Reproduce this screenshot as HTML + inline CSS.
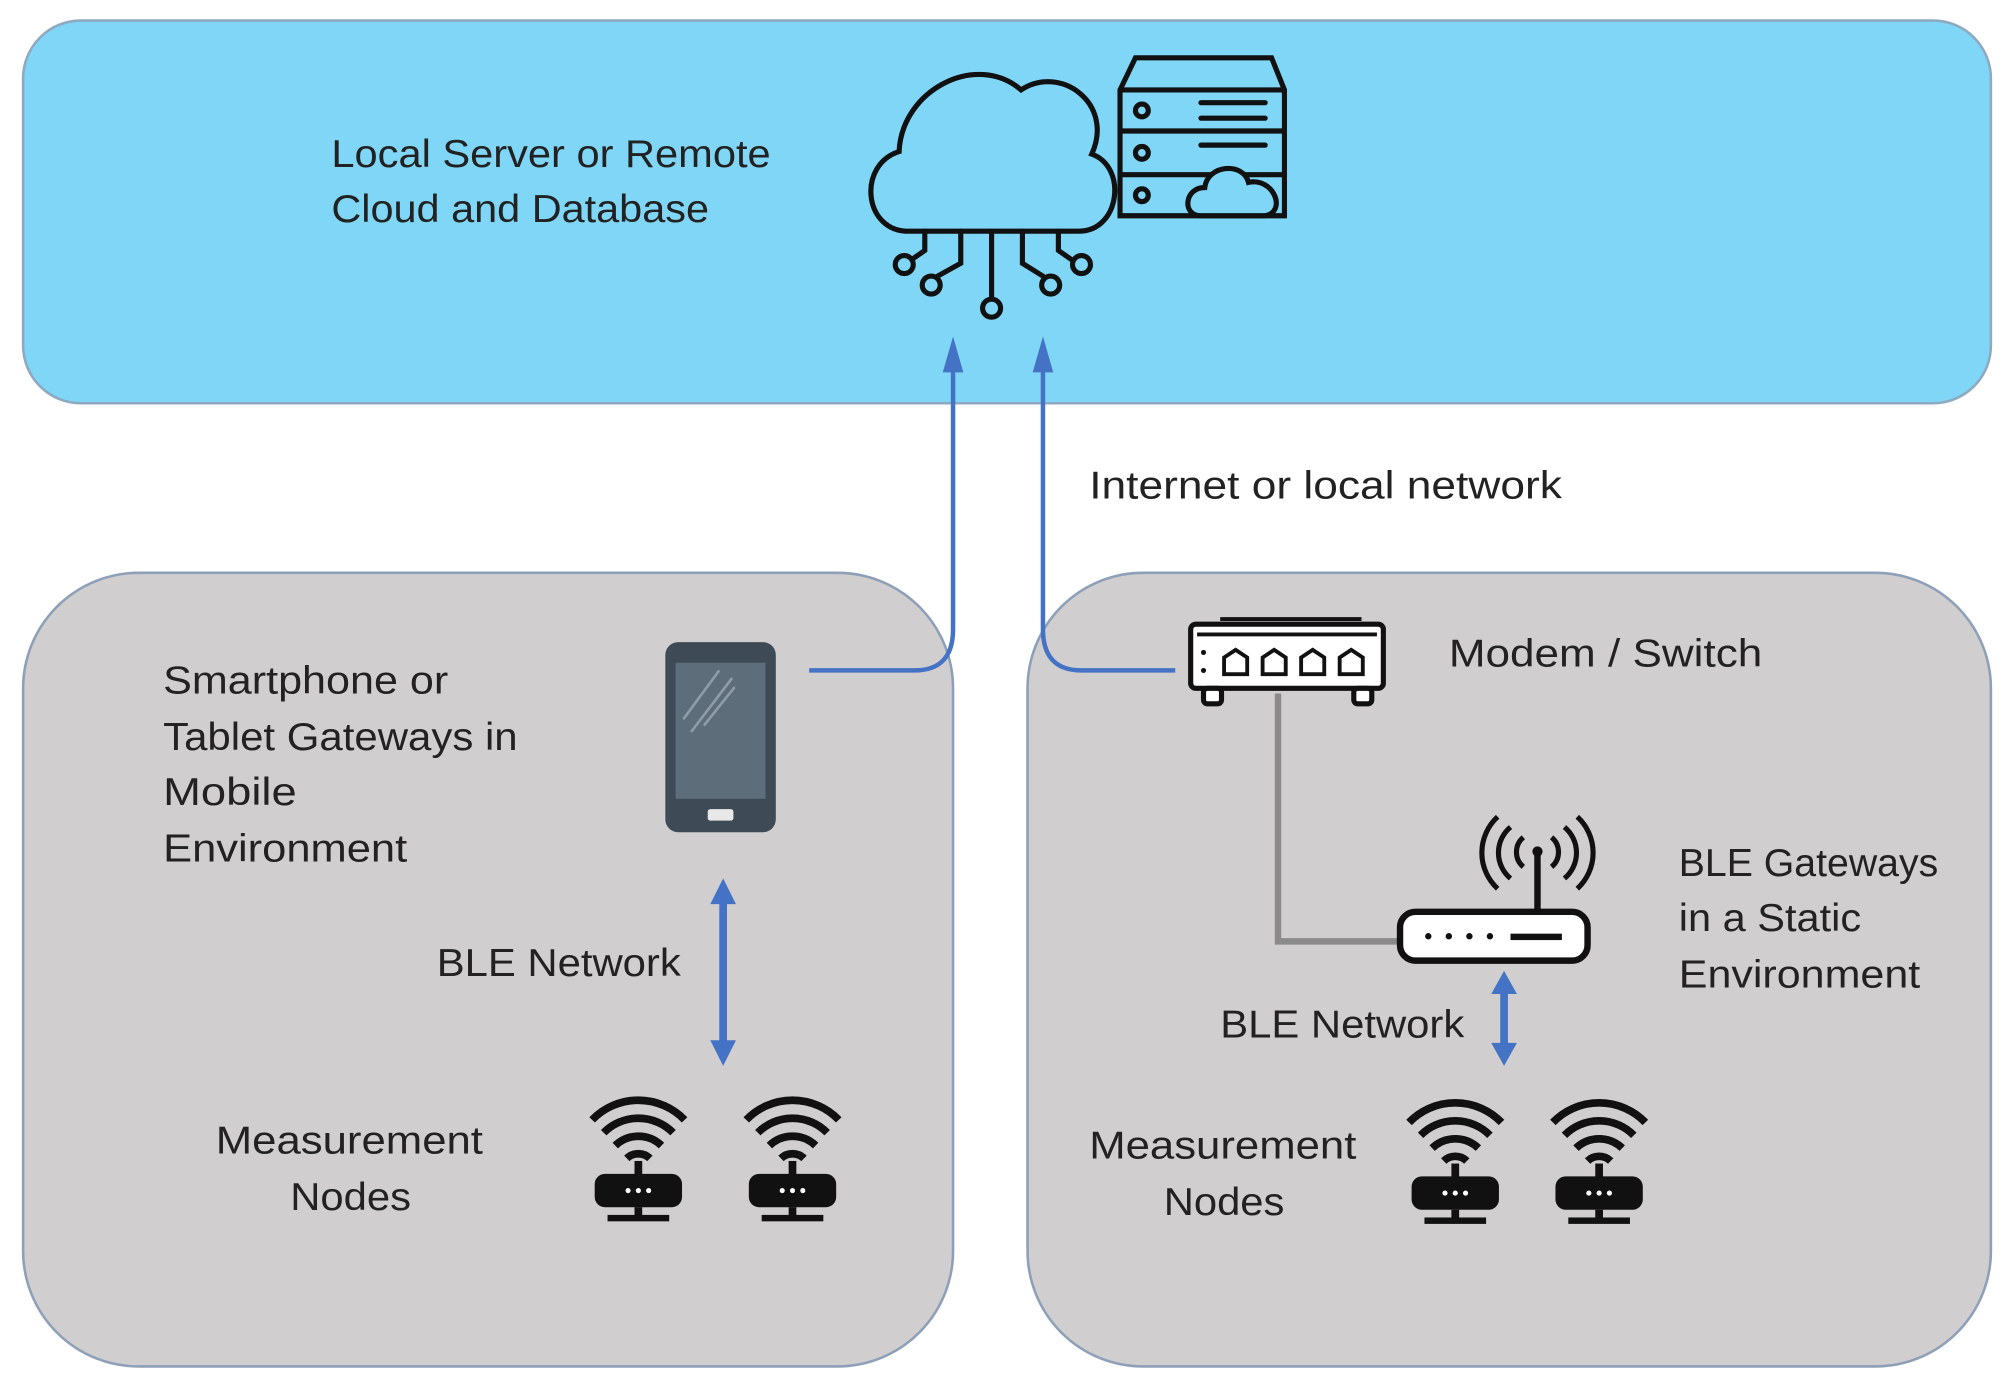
<!DOCTYPE html>
<html><head><meta charset="utf-8"><style>
html,body{margin:0;padding:0;background:#fff}
svg{display:block}
text{font-family:"Liberation Sans",sans-serif;fill:#222;font-size:30px}
</style></head><body>
<svg width="2014" height="1387" viewBox="0 0 1568 1080" preserveAspectRatio="none" xmlns="http://www.w3.org/2000/svg">
<defs>
<g id="node">
 <path d="M-36,-18 A50,50 0 0 1 36,-18" fill="none" stroke="#111" stroke-width="6"/>
 <path d="M-27,-8 A38,38 0 0 1 27,-8" fill="none" stroke="#111" stroke-width="6"/>
 <path d="M-18,2 A26,26 0 0 1 18,2" fill="none" stroke="#111" stroke-width="6"/>
 <path d="M-9,12 A13,13 0 0 1 9,12" fill="none" stroke="#111" stroke-width="6"/>
 <rect x="-3" y="14" width="6" height="12" fill="#111"/>
 <rect x="-34" y="24" width="68" height="26" rx="8" fill="#111"/>
 <circle cx="-8" cy="37" r="2" fill="#fff"/><circle cx="0" cy="37" r="2" fill="#fff"/><circle cx="8" cy="37" r="2" fill="#fff"/>
 <rect x="-3" y="50" width="6" height="8" fill="#111"/>
 <rect x="-24" y="56" width="48" height="5" fill="#111"/>
</g>
</defs>
<rect x="18" y="16" width="1532" height="298" rx="45" fill="#7fd6f6" stroke="#8ea9c0" stroke-width="2"/>
<rect x="18" y="446" width="724" height="618" rx="90" fill="#d0cece" stroke="#8ea0b8" stroke-width="2"/>
<rect x="800" y="446" width="750" height="618" rx="90" fill="#d0cece" stroke="#8ea0b8" stroke-width="2"/>

<text x="258" y="130" textLength="342" lengthAdjust="spacingAndGlyphs">Local Server or Remote</text>
<text x="258" y="173" textLength="294" lengthAdjust="spacingAndGlyphs">Cloud and Database</text>

<g fill="none" stroke="#111" stroke-width="4" stroke-linecap="round">
 <path d="M705,180 C672,178 668,128 700,118 C702,70 760,40 795,70 C825,50 868,80 850,120 C878,130 872,180 840,180 Z"/>
 <path d="M772,180 V232"/><circle cx="772" cy="240" r="7"/>
 <path d="M748,180 V205 L730,215"/><circle cx="725" cy="222" r="7"/>
 <path d="M796,180 V205 L812,215"/><circle cx="818" cy="222" r="7"/>
 <path d="M720,180 V195 L710,202"/><circle cx="704" cy="206" r="7"/>
 <path d="M824,180 V195 L834,202"/><circle cx="842" cy="206" r="7"/>
 <path d="M884,45 H990 L1000,70 V168 H872 V70 Z"/>
 <path d="M872,70 H1000 M872,102 H1000 M872,136 H1000"/>
 <circle cx="889" cy="86" r="5"/><circle cx="889" cy="119" r="5"/><circle cx="889" cy="152" r="5"/>
 <path d="M935,80 H985 M935,92 H985 M935,113 H985"/>
</g>
<path d="M935,168 C920,168 922,146 938,146 C940,128 968,126 972,142 C992,138 1002,165 985,168 Z" fill="#7fd6f6" stroke="#111" stroke-width="4"/>

<path d="M630,522 H712 Q742,522 742,490 V272" fill="none" stroke="#4472c4" stroke-width="3.5"/>
<path d="M742,262 L734,290 L750,290 Z" fill="#4472c4"/>
<path d="M915,522 H842 Q812,522 812,490 V272" fill="none" stroke="#4472c4" stroke-width="3.5"/>
<path d="M812,262 L804,290 L820,290 Z" fill="#4472c4"/>
<text x="848" y="388" textLength="368" lengthAdjust="spacingAndGlyphs">Internet or local network</text>

<rect x="518" y="500" width="86" height="148" rx="10" fill="#3e4a55"/>
<rect x="526" y="516" width="70" height="106" fill="#5d6d7a"/>
<path d="M532,560 L560,522 M538,570 L570,528 M548,565 L572,535" stroke="#8f9da8" stroke-width="2"/>
<rect x="551" y="630" width="20" height="9" rx="2" fill="#e8e8e8"/>

<text x="127" y="540" textLength="222" lengthAdjust="spacingAndGlyphs">Smartphone or</text>
<text x="127" y="584" textLength="276" lengthAdjust="spacingAndGlyphs">Tablet Gateways in</text>
<text x="127" y="627" textLength="104" lengthAdjust="spacingAndGlyphs">Mobile</text>
<text x="127" y="671" textLength="190" lengthAdjust="spacingAndGlyphs">Environment</text>

<line x1="563" y1="700" x2="563" y2="812" stroke="#4472c4" stroke-width="6"/>
<path d="M563,684 L553,704 L573,704 Z M563,830 L553,810 L573,810 Z" fill="#4472c4"/>
<text x="340" y="760" textLength="190" lengthAdjust="spacingAndGlyphs">BLE Network</text>

<text x="168" y="898" textLength="208" lengthAdjust="spacingAndGlyphs">Measurement</text>
<text x="226" y="942" textLength="94" lengthAdjust="spacingAndGlyphs">Nodes</text>
<use href="#node" x="497" y="890"/>
<use href="#node" x="617" y="890"/>

<g stroke="#111" stroke-width="4" fill="#fff">
 <rect x="927" y="486" width="150" height="50" rx="4"/>
 <rect x="937" y="536" width="14" height="12" rx="3"/>
 <rect x="1054" y="536" width="14" height="12" rx="3"/>
</g>
<path d="M932,494 H1072" stroke="#111" stroke-width="3"/>
<path d="M950,482 H1060" stroke="#111" stroke-width="3"/>
<g fill="none" stroke="#111" stroke-width="3">
 <path d="M953,525 V512 L962,506 L971,512 V525 Z"/>
 <path d="M983,525 V512 L992,506 L1001,512 V525 Z"/>
 <path d="M1013,525 V512 L1022,506 L1031,512 V525 Z"/>
 <path d="M1043,525 V512 L1052,506 L1061,512 V525 Z"/>
</g>
<circle cx="937" cy="508" r="2" fill="#111"/><circle cx="937" cy="522" r="2" fill="#111"/>
<text x="1128" y="519" textLength="244" lengthAdjust="spacingAndGlyphs">Modem / Switch</text>

<path d="M995,540 V733 H1090" fill="none" stroke="#8a8a8a" stroke-width="5"/>

<rect x="1090" y="710" width="146" height="38" rx="12" fill="#fff" stroke="#111" stroke-width="5"/>
<circle cx="1112" cy="729" r="2.5" fill="#111"/><circle cx="1128" cy="729" r="2.5" fill="#111"/><circle cx="1144" cy="729" r="2.5" fill="#111"/><circle cx="1160" cy="729" r="2.5" fill="#111"/>
<rect x="1176" y="727" width="40" height="5" fill="#111"/>
<line x1="1197" y1="665" x2="1197" y2="710" stroke="#111" stroke-width="5"/>
<circle cx="1197" cy="663" r="4" fill="#111"/>
<g fill="none" stroke="#111" stroke-width="4">
 <path d="M1186,652 A15,15 0 0 0 1186,675 M1208,652 A15,15 0 0 1 1208,675"/>
 <path d="M1176,644 A26,26 0 0 0 1176,684 M1218,644 A26,26 0 0 1 1218,684"/>
 <path d="M1166,636 A38,38 0 0 0 1166,692 M1228,636 A38,38 0 0 1 1228,692"/>
</g>
<text x="1307" y="682" textLength="202" lengthAdjust="spacingAndGlyphs">BLE Gateways</text>
<text x="1307" y="725" textLength="142" lengthAdjust="spacingAndGlyphs">in a Static</text>
<text x="1307" y="769" textLength="188" lengthAdjust="spacingAndGlyphs">Environment</text>

<line x1="1171" y1="770" x2="1171" y2="816" stroke="#4472c4" stroke-width="6"/>
<path d="M1171,756 L1161,774 L1181,774 Z M1171,830 L1161,812 L1181,812 Z" fill="#4472c4"/>
<text x="950" y="808" textLength="190" lengthAdjust="spacingAndGlyphs">BLE Network</text>

<text x="848" y="902" textLength="208" lengthAdjust="spacingAndGlyphs">Measurement</text>
<text x="906" y="946" textLength="94" lengthAdjust="spacingAndGlyphs">Nodes</text>
<use href="#node" x="1133" y="892"/>
<use href="#node" x="1245" y="892"/>
</svg>
</body></html>
